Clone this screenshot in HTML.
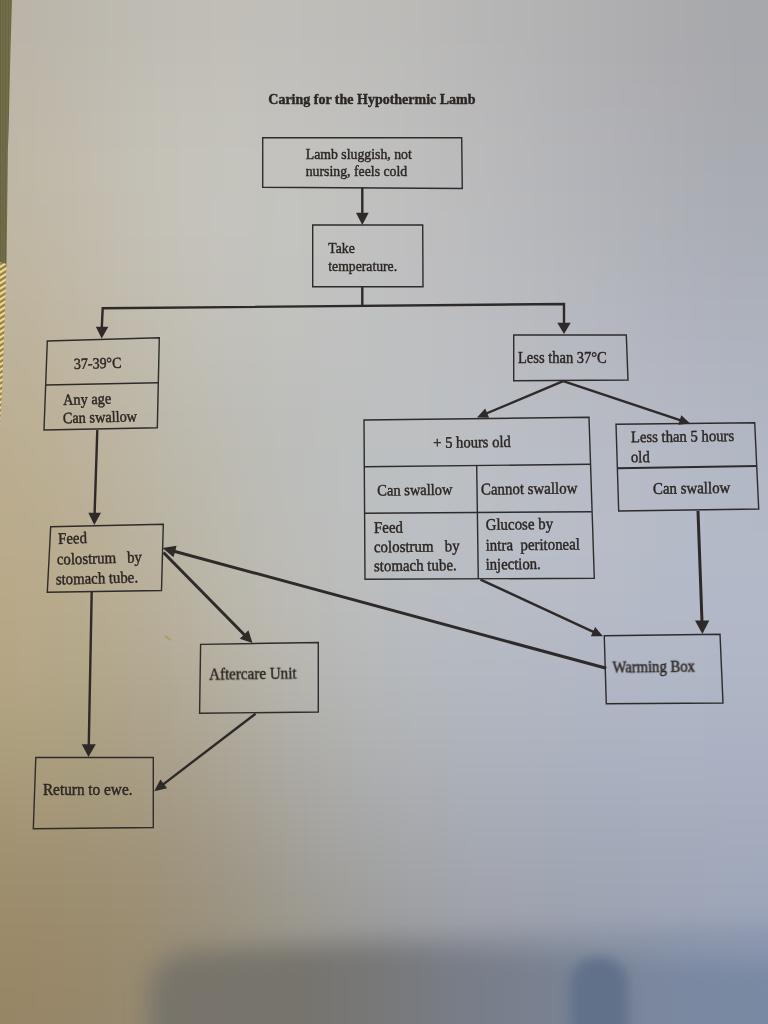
<!DOCTYPE html>
<html lang="en">
<head>
<meta charset="utf-8">
<title>Caring for the Hypothermic Lamb</title>
<style>
html,body{margin:0;padding:0;background:#b4b2ae;}
body{width:768px;height:1024px;overflow:hidden;position:relative;}
svg{position:absolute;left:0;top:0;display:block;}
text{font-family:"Liberation Serif","Times New Roman",serif;fill:#2b2623;stroke:#2b2623;stroke-width:0.4;white-space:pre;}
.bx{fill:none;stroke:#2e2b2b;stroke-width:1.4;stroke-linejoin:miter;}
.ln{fill:none;stroke:#2e2a29;stroke-width:2.4;stroke-linecap:butt;}
.lk{fill:none;stroke:#2e2a29;stroke-width:3;stroke-linecap:butt;}
.ah{fill:#2e2a29;stroke:none;}
</style>
</head>
<body>
<svg width="768" height="1024" viewBox="0 0 768 1024">
<defs>
<filter id="fbg" filterUnits="userSpaceOnUse" x="-128" y="-128" width="1024" height="1280" color-interpolation-filters="sRGB"><feGaussianBlur stdDeviation="30"/></filter>
<filter id="fink" filterUnits="userSpaceOnUse" x="0" y="0" width="768" height="1024" color-interpolation-filters="sRGB"><feGaussianBlur stdDeviation="0.35"/></filter>
<filter id="fsh" filterUnits="userSpaceOnUse" x="-100" y="800" width="968" height="400" color-interpolation-filters="sRGB"><feGaussianBlur stdDeviation="11"/></filter>
<filter id="fbl" filterUnits="userSpaceOnUse" x="500" y="880" width="200" height="250" color-interpolation-filters="sRGB"><feGaussianBlur stdDeviation="6"/></filter>
<linearGradient id="gsh" gradientUnits="userSpaceOnUse" x1="150" y1="0" x2="768" y2="0">
<stop offset="0" stop-color="#78746a"/>
<stop offset="0.25" stop-color="#77746d"/>
<stop offset="0.48" stop-color="#787c85"/>
<stop offset="0.85" stop-color="#7a88a0"/>
<stop offset="1" stop-color="#7a89a3"/>
</linearGradient>
<pattern id="pgold" patternUnits="userSpaceOnUse" width="8" height="4.6" patternTransform="rotate(-32)">
<rect width="8" height="4.6" fill="#b89e58"/>
<rect y="0" width="8" height="1.7" fill="#f0e0a8"/>
<rect y="2.9" width="8" height="1.2" fill="#8a7634"/>
</pattern>
<pattern id="pcloth" patternUnits="userSpaceOnUse" width="2.6" height="8">
<rect width="2.6" height="8" fill="#726e4c"/>
<rect x="0" width="0.9" height="8" fill="#66623f"/>
</pattern>
</defs>
<!--BGSTART-->
<g id="paper" filter="url(#fbg)">
<rect x="-128" y="-128" width="65" height="65" fill="#b9b3a6"/>
<rect x="-64" y="-128" width="65" height="65" fill="#b9b3a6"/>
<rect x="0" y="-128" width="65" height="65" fill="#bab5a9"/>
<rect x="64" y="-128" width="65" height="65" fill="#bcb8ae"/>
<rect x="128" y="-128" width="65" height="65" fill="#bebbb3"/>
<rect x="192" y="-128" width="65" height="65" fill="#bfbdb6"/>
<rect x="256" y="-128" width="65" height="65" fill="#bebdb7"/>
<rect x="320" y="-128" width="65" height="65" fill="#bdbbb7"/>
<rect x="384" y="-128" width="65" height="65" fill="#bab9b6"/>
<rect x="448" y="-128" width="65" height="65" fill="#b7b6b5"/>
<rect x="512" y="-128" width="65" height="65" fill="#b3b2b3"/>
<rect x="576" y="-128" width="65" height="65" fill="#afaeb0"/>
<rect x="640" y="-128" width="65" height="65" fill="#ababad"/>
<rect x="704" y="-128" width="65" height="65" fill="#a7a8ab"/>
<rect x="768" y="-128" width="65" height="65" fill="#a5a6aa"/>
<rect x="832" y="-128" width="65" height="65" fill="#a5a6aa"/>
<rect x="-128" y="-64" width="65" height="65" fill="#b9b3a6"/>
<rect x="-64" y="-64" width="65" height="65" fill="#b9b3a6"/>
<rect x="0" y="-64" width="65" height="65" fill="#bab5a9"/>
<rect x="64" y="-64" width="65" height="65" fill="#bcb8ae"/>
<rect x="128" y="-64" width="65" height="65" fill="#bebbb3"/>
<rect x="192" y="-64" width="65" height="65" fill="#bfbdb6"/>
<rect x="256" y="-64" width="65" height="65" fill="#bebdb7"/>
<rect x="320" y="-64" width="65" height="65" fill="#bdbbb7"/>
<rect x="384" y="-64" width="65" height="65" fill="#bab9b6"/>
<rect x="448" y="-64" width="65" height="65" fill="#b7b6b5"/>
<rect x="512" y="-64" width="65" height="65" fill="#b3b2b3"/>
<rect x="576" y="-64" width="65" height="65" fill="#afaeb0"/>
<rect x="640" y="-64" width="65" height="65" fill="#ababad"/>
<rect x="704" y="-64" width="65" height="65" fill="#a7a8ab"/>
<rect x="768" y="-64" width="65" height="65" fill="#a5a6aa"/>
<rect x="832" y="-64" width="65" height="65" fill="#a5a6aa"/>
<rect x="-128" y="0" width="65" height="65" fill="#bab4a6"/>
<rect x="-64" y="0" width="65" height="65" fill="#bab4a6"/>
<rect x="0" y="0" width="65" height="65" fill="#bbb5a9"/>
<rect x="64" y="0" width="65" height="65" fill="#bdb9af"/>
<rect x="128" y="0" width="65" height="65" fill="#bfbcb4"/>
<rect x="192" y="0" width="65" height="65" fill="#c0beb7"/>
<rect x="256" y="0" width="65" height="65" fill="#bfbeb9"/>
<rect x="320" y="0" width="65" height="65" fill="#bebcb9"/>
<rect x="384" y="0" width="65" height="65" fill="#bbbab8"/>
<rect x="448" y="0" width="65" height="65" fill="#b7b6b6"/>
<rect x="512" y="0" width="65" height="65" fill="#b3b3b4"/>
<rect x="576" y="0" width="65" height="65" fill="#afafb1"/>
<rect x="640" y="0" width="65" height="65" fill="#ababae"/>
<rect x="704" y="0" width="65" height="65" fill="#a7a8ac"/>
<rect x="768" y="0" width="65" height="65" fill="#a5a7ab"/>
<rect x="832" y="0" width="65" height="65" fill="#a5a7ab"/>
<rect x="-128" y="64" width="65" height="65" fill="#bcb5a5"/>
<rect x="-64" y="64" width="65" height="65" fill="#bcb5a5"/>
<rect x="0" y="64" width="65" height="65" fill="#bdb7a9"/>
<rect x="64" y="64" width="65" height="65" fill="#c0bbb0"/>
<rect x="128" y="64" width="65" height="65" fill="#c2bfb6"/>
<rect x="192" y="64" width="65" height="65" fill="#c3c1ba"/>
<rect x="256" y="64" width="65" height="65" fill="#c2c0bc"/>
<rect x="320" y="64" width="65" height="65" fill="#bfbfbc"/>
<rect x="384" y="64" width="65" height="65" fill="#bcbcba"/>
<rect x="448" y="64" width="65" height="65" fill="#b9b8b9"/>
<rect x="512" y="64" width="65" height="65" fill="#b4b4b7"/>
<rect x="576" y="64" width="65" height="65" fill="#b0b0b4"/>
<rect x="640" y="64" width="65" height="65" fill="#acacb1"/>
<rect x="704" y="64" width="65" height="65" fill="#a8a9ae"/>
<rect x="768" y="64" width="65" height="65" fill="#a6a8ae"/>
<rect x="832" y="64" width="65" height="65" fill="#a6a8ae"/>
<rect x="-128" y="128" width="65" height="65" fill="#bdb5a3"/>
<rect x="-64" y="128" width="65" height="65" fill="#bdb5a3"/>
<rect x="0" y="128" width="65" height="65" fill="#bfb8a7"/>
<rect x="64" y="128" width="65" height="65" fill="#c2bdb0"/>
<rect x="128" y="128" width="65" height="65" fill="#c4c1b7"/>
<rect x="192" y="128" width="65" height="65" fill="#c4c3bc"/>
<rect x="256" y="128" width="65" height="65" fill="#c3c2be"/>
<rect x="320" y="128" width="65" height="65" fill="#c1c0be"/>
<rect x="384" y="128" width="65" height="65" fill="#bdbdbd"/>
<rect x="448" y="128" width="65" height="65" fill="#bab9bb"/>
<rect x="512" y="128" width="65" height="65" fill="#b5b6b9"/>
<rect x="576" y="128" width="65" height="65" fill="#b1b2b7"/>
<rect x="640" y="128" width="65" height="65" fill="#acaeb4"/>
<rect x="704" y="128" width="65" height="65" fill="#a8abb2"/>
<rect x="768" y="128" width="65" height="65" fill="#a7aab1"/>
<rect x="832" y="128" width="65" height="65" fill="#a7aab1"/>
<rect x="-128" y="192" width="65" height="65" fill="#beb5a0"/>
<rect x="-64" y="192" width="65" height="65" fill="#beb5a0"/>
<rect x="0" y="192" width="65" height="65" fill="#bfb7a5"/>
<rect x="64" y="192" width="65" height="65" fill="#c2bcae"/>
<rect x="128" y="192" width="65" height="65" fill="#c4c1b7"/>
<rect x="192" y="192" width="65" height="65" fill="#c4c3bd"/>
<rect x="256" y="192" width="65" height="65" fill="#c3c3bf"/>
<rect x="320" y="192" width="65" height="65" fill="#c1c1c0"/>
<rect x="384" y="192" width="65" height="65" fill="#bebebf"/>
<rect x="448" y="192" width="65" height="65" fill="#babbbd"/>
<rect x="512" y="192" width="65" height="65" fill="#b6b7bb"/>
<rect x="576" y="192" width="65" height="65" fill="#b2b3b9"/>
<rect x="640" y="192" width="65" height="65" fill="#aeb0b7"/>
<rect x="704" y="192" width="65" height="65" fill="#aaadb5"/>
<rect x="768" y="192" width="65" height="65" fill="#a8acb5"/>
<rect x="832" y="192" width="65" height="65" fill="#a8acb5"/>
<rect x="-128" y="256" width="65" height="65" fill="#beb39c"/>
<rect x="-64" y="256" width="65" height="65" fill="#beb39c"/>
<rect x="0" y="256" width="65" height="65" fill="#bfb5a0"/>
<rect x="64" y="256" width="65" height="65" fill="#c1baab"/>
<rect x="128" y="256" width="65" height="65" fill="#c2bfb4"/>
<rect x="192" y="256" width="65" height="65" fill="#c3c1bb"/>
<rect x="256" y="256" width="65" height="65" fill="#c2c2bf"/>
<rect x="320" y="256" width="65" height="65" fill="#c0c1c0"/>
<rect x="384" y="256" width="65" height="65" fill="#bebec0"/>
<rect x="448" y="256" width="65" height="65" fill="#bbbcbf"/>
<rect x="512" y="256" width="65" height="65" fill="#b7b9be"/>
<rect x="576" y="256" width="65" height="65" fill="#b3b6bd"/>
<rect x="640" y="256" width="65" height="65" fill="#afb2bb"/>
<rect x="704" y="256" width="65" height="65" fill="#acb0ba"/>
<rect x="768" y="256" width="65" height="65" fill="#aaafb9"/>
<rect x="832" y="256" width="65" height="65" fill="#aaafb9"/>
<rect x="-128" y="320" width="65" height="65" fill="#bdb096"/>
<rect x="-64" y="320" width="65" height="65" fill="#bdb096"/>
<rect x="0" y="320" width="65" height="65" fill="#bdb39b"/>
<rect x="64" y="320" width="65" height="65" fill="#bfb7a6"/>
<rect x="128" y="320" width="65" height="65" fill="#c0bcb0"/>
<rect x="192" y="320" width="65" height="65" fill="#c0bfb8"/>
<rect x="256" y="320" width="65" height="65" fill="#c0c0bd"/>
<rect x="320" y="320" width="65" height="65" fill="#bfc0c0"/>
<rect x="384" y="320" width="65" height="65" fill="#bdbfc0"/>
<rect x="448" y="320" width="65" height="65" fill="#bbbdc1"/>
<rect x="512" y="320" width="65" height="65" fill="#b8bac1"/>
<rect x="576" y="320" width="65" height="65" fill="#b5b8c0"/>
<rect x="640" y="320" width="65" height="65" fill="#b2b5c0"/>
<rect x="704" y="320" width="65" height="65" fill="#aeb3bf"/>
<rect x="768" y="320" width="65" height="65" fill="#adb2be"/>
<rect x="832" y="320" width="65" height="65" fill="#adb2be"/>
<rect x="-128" y="384" width="65" height="65" fill="#bbae91"/>
<rect x="-64" y="384" width="65" height="65" fill="#bbae91"/>
<rect x="0" y="384" width="65" height="65" fill="#bcb095"/>
<rect x="64" y="384" width="65" height="65" fill="#bdb4a0"/>
<rect x="128" y="384" width="65" height="65" fill="#bdb8ab"/>
<rect x="192" y="384" width="65" height="65" fill="#bdbcb4"/>
<rect x="256" y="384" width="65" height="65" fill="#bdbebb"/>
<rect x="320" y="384" width="65" height="65" fill="#bdbfbf"/>
<rect x="384" y="384" width="65" height="65" fill="#bdbfc1"/>
<rect x="448" y="384" width="65" height="65" fill="#bbbec3"/>
<rect x="512" y="384" width="65" height="65" fill="#b9bcc3"/>
<rect x="576" y="384" width="65" height="65" fill="#b6bac3"/>
<rect x="640" y="384" width="65" height="65" fill="#b4b8c3"/>
<rect x="704" y="384" width="65" height="65" fill="#b1b6c2"/>
<rect x="768" y="384" width="65" height="65" fill="#afb4c2"/>
<rect x="832" y="384" width="65" height="65" fill="#afb4c2"/>
<rect x="-128" y="448" width="65" height="65" fill="#baab8c"/>
<rect x="-64" y="448" width="65" height="65" fill="#baab8c"/>
<rect x="0" y="448" width="65" height="65" fill="#baad90"/>
<rect x="64" y="448" width="65" height="65" fill="#bbb19a"/>
<rect x="128" y="448" width="65" height="65" fill="#bbb6a6"/>
<rect x="192" y="448" width="65" height="65" fill="#bcb9b0"/>
<rect x="256" y="448" width="65" height="65" fill="#bcbdb9"/>
<rect x="320" y="448" width="65" height="65" fill="#bcbfbf"/>
<rect x="384" y="448" width="65" height="65" fill="#bcbfc2"/>
<rect x="448" y="448" width="65" height="65" fill="#bbbec4"/>
<rect x="512" y="448" width="65" height="65" fill="#b9bdc5"/>
<rect x="576" y="448" width="65" height="65" fill="#b7bbc6"/>
<rect x="640" y="448" width="65" height="65" fill="#b5bac6"/>
<rect x="704" y="448" width="65" height="65" fill="#b2b8c5"/>
<rect x="768" y="448" width="65" height="65" fill="#b1b7c5"/>
<rect x="832" y="448" width="65" height="65" fill="#b1b7c5"/>
<rect x="-128" y="512" width="65" height="65" fill="#b8aa89"/>
<rect x="-64" y="512" width="65" height="65" fill="#b8aa89"/>
<rect x="0" y="512" width="65" height="65" fill="#b9ab8c"/>
<rect x="64" y="512" width="65" height="65" fill="#b9af96"/>
<rect x="128" y="512" width="65" height="65" fill="#bab3a1"/>
<rect x="192" y="512" width="65" height="65" fill="#bbb8ad"/>
<rect x="256" y="512" width="65" height="65" fill="#bcbcb7"/>
<rect x="320" y="512" width="65" height="65" fill="#bcbebe"/>
<rect x="384" y="512" width="65" height="65" fill="#bbbec2"/>
<rect x="448" y="512" width="65" height="65" fill="#babec5"/>
<rect x="512" y="512" width="65" height="65" fill="#b8bdc6"/>
<rect x="576" y="512" width="65" height="65" fill="#b7bcc7"/>
<rect x="640" y="512" width="65" height="65" fill="#b5bac7"/>
<rect x="704" y="512" width="65" height="65" fill="#b3b9c7"/>
<rect x="768" y="512" width="65" height="65" fill="#b1b8c6"/>
<rect x="832" y="512" width="65" height="65" fill="#b1b8c6"/>
<rect x="-128" y="576" width="65" height="65" fill="#b7a886"/>
<rect x="-64" y="576" width="65" height="65" fill="#b7a886"/>
<rect x="0" y="576" width="65" height="65" fill="#b7a989"/>
<rect x="64" y="576" width="65" height="65" fill="#b7ac90"/>
<rect x="128" y="576" width="65" height="65" fill="#b8af9b"/>
<rect x="192" y="576" width="65" height="65" fill="#bab6a9"/>
<rect x="256" y="576" width="65" height="65" fill="#bbbab4"/>
<rect x="320" y="576" width="65" height="65" fill="#babcbc"/>
<rect x="384" y="576" width="65" height="65" fill="#b9bcc1"/>
<rect x="448" y="576" width="65" height="65" fill="#b7bcc4"/>
<rect x="512" y="576" width="65" height="65" fill="#b6bbc5"/>
<rect x="576" y="576" width="65" height="65" fill="#b5bac6"/>
<rect x="640" y="576" width="65" height="65" fill="#b3b9c7"/>
<rect x="704" y="576" width="65" height="65" fill="#b2b8c7"/>
<rect x="768" y="576" width="65" height="65" fill="#b0b7c7"/>
<rect x="832" y="576" width="65" height="65" fill="#b0b7c7"/>
<rect x="-128" y="640" width="65" height="65" fill="#b3a583"/>
<rect x="-64" y="640" width="65" height="65" fill="#b3a583"/>
<rect x="0" y="640" width="65" height="65" fill="#b4a686"/>
<rect x="64" y="640" width="65" height="65" fill="#b2a78a"/>
<rect x="128" y="640" width="65" height="65" fill="#b3a993"/>
<rect x="192" y="640" width="65" height="65" fill="#b5b0a1"/>
<rect x="256" y="640" width="65" height="65" fill="#b7b5ae"/>
<rect x="320" y="640" width="65" height="65" fill="#b6b8b7"/>
<rect x="384" y="640" width="65" height="65" fill="#b5b8bd"/>
<rect x="448" y="640" width="65" height="65" fill="#b4b8c1"/>
<rect x="512" y="640" width="65" height="65" fill="#b2b8c3"/>
<rect x="576" y="640" width="65" height="65" fill="#b1b7c5"/>
<rect x="640" y="640" width="65" height="65" fill="#b0b7c5"/>
<rect x="704" y="640" width="65" height="65" fill="#afb6c5"/>
<rect x="768" y="640" width="65" height="65" fill="#aeb5c5"/>
<rect x="832" y="640" width="65" height="65" fill="#aeb5c5"/>
<rect x="-128" y="704" width="65" height="65" fill="#ad9f7d"/>
<rect x="-64" y="704" width="65" height="65" fill="#ad9f7d"/>
<rect x="0" y="704" width="65" height="65" fill="#ada07f"/>
<rect x="64" y="704" width="65" height="65" fill="#aca084"/>
<rect x="128" y="704" width="65" height="65" fill="#aca28c"/>
<rect x="192" y="704" width="65" height="65" fill="#aea799"/>
<rect x="256" y="704" width="65" height="65" fill="#b0ada6"/>
<rect x="320" y="704" width="65" height="65" fill="#b0b1b1"/>
<rect x="384" y="704" width="65" height="65" fill="#b0b3b7"/>
<rect x="448" y="704" width="65" height="65" fill="#afb3bc"/>
<rect x="512" y="704" width="65" height="65" fill="#aeb3c0"/>
<rect x="576" y="704" width="65" height="65" fill="#adb3c1"/>
<rect x="640" y="704" width="65" height="65" fill="#acb3c2"/>
<rect x="704" y="704" width="65" height="65" fill="#abb2c3"/>
<rect x="768" y="704" width="65" height="65" fill="#aab2c3"/>
<rect x="832" y="704" width="65" height="65" fill="#aab2c3"/>
<rect x="-128" y="768" width="65" height="65" fill="#a69776"/>
<rect x="-64" y="768" width="65" height="65" fill="#a69776"/>
<rect x="0" y="768" width="65" height="65" fill="#a69878"/>
<rect x="64" y="768" width="65" height="65" fill="#a5997c"/>
<rect x="128" y="768" width="65" height="65" fill="#a59a83"/>
<rect x="192" y="768" width="65" height="65" fill="#a69f8f"/>
<rect x="256" y="768" width="65" height="65" fill="#a8a59e"/>
<rect x="320" y="768" width="65" height="65" fill="#a9aaa9"/>
<rect x="384" y="768" width="65" height="65" fill="#aaacb1"/>
<rect x="448" y="768" width="65" height="65" fill="#a9adb6"/>
<rect x="512" y="768" width="65" height="65" fill="#a8adba"/>
<rect x="576" y="768" width="65" height="65" fill="#a7adbc"/>
<rect x="640" y="768" width="65" height="65" fill="#a7aebd"/>
<rect x="704" y="768" width="65" height="65" fill="#a7aebf"/>
<rect x="768" y="768" width="65" height="65" fill="#a6aec0"/>
<rect x="832" y="768" width="65" height="65" fill="#a6aec0"/>
<rect x="-128" y="832" width="65" height="65" fill="#9f906f"/>
<rect x="-64" y="832" width="65" height="65" fill="#9f906f"/>
<rect x="0" y="832" width="65" height="65" fill="#9f9071"/>
<rect x="64" y="832" width="65" height="65" fill="#9f9174"/>
<rect x="128" y="832" width="65" height="65" fill="#9f937b"/>
<rect x="192" y="832" width="65" height="65" fill="#9f9786"/>
<rect x="256" y="832" width="65" height="65" fill="#a19d94"/>
<rect x="320" y="832" width="65" height="65" fill="#a2a2a0"/>
<rect x="384" y="832" width="65" height="65" fill="#a3a5a9"/>
<rect x="448" y="832" width="65" height="65" fill="#a3a7b0"/>
<rect x="512" y="832" width="65" height="65" fill="#a2a7b4"/>
<rect x="576" y="832" width="65" height="65" fill="#a2a7b6"/>
<rect x="640" y="832" width="65" height="65" fill="#a1a8b8"/>
<rect x="704" y="832" width="65" height="65" fill="#a1a9bb"/>
<rect x="768" y="832" width="65" height="65" fill="#a1a9bd"/>
<rect x="832" y="832" width="65" height="65" fill="#a1a9bd"/>
<rect x="-128" y="896" width="65" height="65" fill="#9b8b69"/>
<rect x="-64" y="896" width="65" height="65" fill="#9b8b69"/>
<rect x="0" y="896" width="65" height="65" fill="#9b8b6b"/>
<rect x="64" y="896" width="65" height="65" fill="#9a8c6e"/>
<rect x="128" y="896" width="65" height="65" fill="#9a8e74"/>
<rect x="192" y="896" width="65" height="65" fill="#9a9280"/>
<rect x="256" y="896" width="65" height="65" fill="#9b978d"/>
<rect x="320" y="896" width="65" height="65" fill="#9c9b98"/>
<rect x="384" y="896" width="65" height="65" fill="#9c9ea2"/>
<rect x="448" y="896" width="65" height="65" fill="#9da0a9"/>
<rect x="512" y="896" width="65" height="65" fill="#9ca1ae"/>
<rect x="576" y="896" width="65" height="65" fill="#9ca2b1"/>
<rect x="640" y="896" width="65" height="65" fill="#9ca3b4"/>
<rect x="704" y="896" width="65" height="65" fill="#9ca4b8"/>
<rect x="768" y="896" width="65" height="65" fill="#9ca5ba"/>
<rect x="832" y="896" width="65" height="65" fill="#9ca5ba"/>
<rect x="-128" y="960" width="65" height="65" fill="#988665"/>
<rect x="-64" y="960" width="65" height="65" fill="#988665"/>
<rect x="0" y="960" width="65" height="65" fill="#988767"/>
<rect x="64" y="960" width="65" height="65" fill="#97886b"/>
<rect x="128" y="960" width="65" height="65" fill="#968b72"/>
<rect x="192" y="960" width="65" height="65" fill="#968f7d"/>
<rect x="256" y="960" width="65" height="65" fill="#969388"/>
<rect x="320" y="960" width="65" height="65" fill="#969693"/>
<rect x="384" y="960" width="65" height="65" fill="#97999d"/>
<rect x="448" y="960" width="65" height="65" fill="#979ba4"/>
<rect x="512" y="960" width="65" height="65" fill="#979ca9"/>
<rect x="576" y="960" width="65" height="65" fill="#979dae"/>
<rect x="640" y="960" width="65" height="65" fill="#979fb2"/>
<rect x="704" y="960" width="65" height="65" fill="#97a0b6"/>
<rect x="768" y="960" width="65" height="65" fill="#97a1b8"/>
<rect x="832" y="960" width="65" height="65" fill="#97a1b8"/>
<rect x="-128" y="1024" width="65" height="65" fill="#978464"/>
<rect x="-64" y="1024" width="65" height="65" fill="#978464"/>
<rect x="0" y="1024" width="65" height="65" fill="#968566"/>
<rect x="64" y="1024" width="65" height="65" fill="#95876a"/>
<rect x="128" y="1024" width="65" height="65" fill="#958972"/>
<rect x="192" y="1024" width="65" height="65" fill="#948d7c"/>
<rect x="256" y="1024" width="65" height="65" fill="#949187"/>
<rect x="320" y="1024" width="65" height="65" fill="#949491"/>
<rect x="384" y="1024" width="65" height="65" fill="#94969a"/>
<rect x="448" y="1024" width="65" height="65" fill="#9498a2"/>
<rect x="512" y="1024" width="65" height="65" fill="#949aa7"/>
<rect x="576" y="1024" width="65" height="65" fill="#949bac"/>
<rect x="640" y="1024" width="65" height="65" fill="#949db0"/>
<rect x="704" y="1024" width="65" height="65" fill="#949eb5"/>
<rect x="768" y="1024" width="65" height="65" fill="#949fb7"/>
<rect x="832" y="1024" width="65" height="65" fill="#949fb7"/>
<rect x="-128" y="1088" width="65" height="65" fill="#978464"/>
<rect x="-64" y="1088" width="65" height="65" fill="#978464"/>
<rect x="0" y="1088" width="65" height="65" fill="#968566"/>
<rect x="64" y="1088" width="65" height="65" fill="#95876a"/>
<rect x="128" y="1088" width="65" height="65" fill="#958972"/>
<rect x="192" y="1088" width="65" height="65" fill="#948d7c"/>
<rect x="256" y="1088" width="65" height="65" fill="#949187"/>
<rect x="320" y="1088" width="65" height="65" fill="#949491"/>
<rect x="384" y="1088" width="65" height="65" fill="#94969a"/>
<rect x="448" y="1088" width="65" height="65" fill="#9498a2"/>
<rect x="512" y="1088" width="65" height="65" fill="#949aa7"/>
<rect x="576" y="1088" width="65" height="65" fill="#949bac"/>
<rect x="640" y="1088" width="65" height="65" fill="#949db0"/>
<rect x="704" y="1088" width="65" height="65" fill="#949eb5"/>
<rect x="768" y="1088" width="65" height="65" fill="#949fb7"/>
<rect x="832" y="1088" width="65" height="65" fill="#949fb7"/>
</g>
<!--BGEND-->
<g id="shadow">
<g filter="url(#fsh)">
<path opacity="0.5" fill="url(#gsh)" d="M148,1100 L148,986 Q150,952 195,946 L384,935 L768,926 L900,926 L900,1100 Z"/>
<path fill="url(#gsh)" d="M150,1100 L150,996 Q152,961 195,956 L384,948 L768,964 L900,964 L900,1100 Z"/>
</g>
<path filter="url(#fbl)" fill="#62718a" d="M571,1100 L570,985 Q572,958 598,957 Q626,958 628,985 L629,1100 Z"/>
</g>
<!-- cloth strip at left -->
<polygon id="cloth" points="0,0 12,0 10.5,48 8.7,128 7.9,150 6.5,266 0,266" fill="url(#pcloth)"/>
<polygon id="gold" points="0,262 6.5,264 4.4,326 2.3,385 0,425" fill="url(#pgold)"/>
<line x1="164.8" y1="635.8" x2="171" y2="640.2" stroke="#a89a4e" stroke-width="1.3"/>
<g id="chart" filter="url(#fink)">
<!-- boxes -->
<polygon class="bx" points="262.7,137.7 461.7,137.7 462.3,188.5 262.7,187.3"/>
<polygon class="bx" points="312.7,225 422.7,225 423,286.7 312.7,286.7"/>
<polygon class="bx" points="47.3,341 159.3,337.7 157.3,427.7 44,430"/>
<line class="bx" x1="46" y1="385" x2="158.3" y2="382.7"/>
<polygon class="bx" points="50.7,526.7 163.3,524.3 161.5,590.5 47.3,592.3"/>
<polygon class="bx" points="200.6,644.4 318.3,642.5 318.3,712 199.6,713.3"/>
<polygon class="bx" points="35.8,757.5 153.3,757.5 153.3,827.5 33.3,828.75"/>
<polygon class="bx" points="513.7,335 626.3,335 628,380 513.7,380.7"/>
<polygon class="bx" points="364,420 589,417.3 594.3,578.3 365,579.3"/>
<line class="bx" x1="364.3" y1="466.7" x2="590" y2="464.3"/>
<line class="bx" x1="365" y1="513.3" x2="591.7" y2="511.7"/>
<line class="bx" x1="476.7" y1="465.7" x2="478.3" y2="579"/>
<polygon class="bx" points="616,424.3 754.7,422.7 758.7,509 618.7,511"/>
<line class="bx" style="stroke-width:2" x1="617.3" y1="468.3" x2="757" y2="466"/>
<polygon class="bx" points="604.25,635.8 720,634.2 723,703 606.3,703.75"/>
<!-- connectors -->
<line class="ln" x1="362.3" y1="187.5" x2="362.3" y2="214"/>
<polygon class="ah" points="356,212.7 368.7,212.7 362.3,225"/>
<line class="ln" x1="362.3" y1="286.7" x2="362.3" y2="306"/>
<polyline class="ln" points="101.8,328 102.7,308.3 564,304 564,324"/>
<polygon class="ah" points="95.8,326.7 108.3,326.7 101.7,338.5"/>
<polygon class="ah" points="557.3,322.7 570.7,322.7 564,334"/>
<line class="ln" x1="97.3" y1="430" x2="94.6" y2="514"/>
<polygon class="ah" points="88.3,512.7 101,512.7 94.3,525"/>
<line class="ln" x1="91.7" y1="592" x2="88.75" y2="746"/>
<polygon class="ah" points="81.7,744.2 95.8,744.2 88.5,757"/>
<line class="lk" x1="698" y1="511" x2="702" y2="622"/>
<polygon class="ah" points="695,620.4 709.3,620.4 702.4,634"/>
<!-- t37 to plus5 -->
<line class="ln" x1="563.2" y1="381.2" x2="486.2" y2="413.5"/>
<polygon class="ah" points="485.2,408.5 489.1,417.8 477.0,417.4"/>
<!-- t37 to less5 -->
<line class="ln" x1="563.2" y1="381.2" x2="680.7" y2="420.3"/>
<polygon class="ah" points="678.2,424.8 681.3,415.3 690.2,423.5"/>
<!-- plus5 to warming -->
<line class="ln" x1="480.5" y1="579.6" x2="593.9" y2="632.1"/>
<polygon class="ah" points="590.9,636.2 595.1,627.1 603.0,636.2"/>
<!-- warming to feed -->
<line class="lk" x1="606.3" y1="668.3" x2="174.1" y2="551.2"/>
<polygon class="ah" points="176.6,545.7 173.5,557.3 162.5,548.1"/>
<!-- feed to aftercare -->
<line class="lk" x1="163.5" y1="552.5" x2="244.8" y2="635.2"/>
<polygon class="ah" points="239.8,638.7 248.4,630.2 252.5,643.0"/>
<!-- aftercare to return -->
<line class="ln" x1="255.5" y1="713.7" x2="162.9" y2="784.6"/>
<polygon class="ah" points="160.4,779.6 167.1,788.3 154.2,791.2"/>
</g>
<g id="labels" filter="url(#fink)" transform="translate(0,0.6)">
<text transform="translate(268.3,103.3) scale(1,1.1)" font-size="14" font-weight="bold">Caring for the Hypothermic Lamb</text>
<text transform="translate(305.7,158.3) scale(1,1.1)" font-size="13.8">Lamb sluggish, not</text>
<text transform="translate(305.7,175.0) scale(1,1.1)" font-size="13.8">nursing, feels cold</text>
<text transform="translate(328.3,252.3) scale(1,1.1)" font-size="13.7">Take</text>
<text transform="translate(328.3,270.0) scale(1,1.1)" font-size="13.7">temperature.</text>
<text transform="translate(74.0,368.3) rotate(-1.5) scale(1,1.1)" font-size="14">37-39°C</text>
<text transform="translate(63.3,404.3) rotate(-1.5) scale(1,1.1)" font-size="14.3">Any age</text>
<text transform="translate(63.0,422.7) rotate(-1.5) scale(1,1.1)" font-size="14.3">Can swallow</text>
<text transform="translate(58.3,543.3) rotate(-1.5) scale(1,1.1)" font-size="14.8">Feed</text>
<text transform="translate(57.0,564.0) rotate(-1.5) scale(1,1.1)" font-size="14.8">colostrum   by</text>
<text transform="translate(56.0,584.0) rotate(-1.5) scale(1,1.1)" font-size="14.8">stomach tube.</text>
<text transform="translate(209.2,679.6) rotate(-0.8) scale(1,1.1)" font-size="15.1">Aftercare Unit</text>
<text transform="translate(42.9,794.2) scale(1,1.1)" font-size="15.3">Return to ewe.</text>
<text transform="translate(518.0,362.3) scale(1,1.1)" font-size="14.5">Less than 37°C</text>
<text transform="translate(433.3,447.3) rotate(-0.7) scale(1,1.1)" font-size="14.6">+ 5 hours old</text>
<text transform="translate(377.3,495.0) rotate(-0.7) scale(1,1.1)" font-size="14.5">Can swallow</text>
<text transform="translate(481.0,494.0) rotate(-0.7) scale(1,1.1)" font-size="14.9">Cannot swallow</text>
<text transform="translate(374.0,532.3) rotate(-0.7) scale(1,1.1)" font-size="14.9">Feed</text>
<text transform="translate(374.0,551.7) rotate(-0.7) scale(1,1.1)" font-size="14.9">colostrum   by</text>
<text transform="translate(374.0,570.7) rotate(-0.7) scale(1,1.1)" font-size="14.9">stomach tube.</text>
<text transform="translate(485.7,529.3) rotate(-0.7) scale(1,1.1)" font-size="14.9">Glucose by</text>
<text transform="translate(485.7,550.0) rotate(-0.7) scale(1,1.1)" font-size="14.9">intra  peritoneal</text>
<text transform="translate(485.7,569.0) rotate(-0.7) scale(1,1.1)" font-size="14.7">injection.</text>
<text transform="translate(631.0,441.7) rotate(-0.7) scale(1,1.1)" font-size="14.7">Less than 5 hours</text>
<text transform="translate(631.0,461.7) rotate(-0.7) scale(1,1.1)" font-size="14.7">old</text>
<text transform="translate(653.0,493.3) rotate(-0.7) scale(1,1.1)" font-size="14.9">Can swallow</text>
<text transform="translate(612.6,672.5) rotate(-0.8) scale(1,1.1)" font-size="14.7">Warming Box</text>
</g>
</svg>
</body>
</html>
